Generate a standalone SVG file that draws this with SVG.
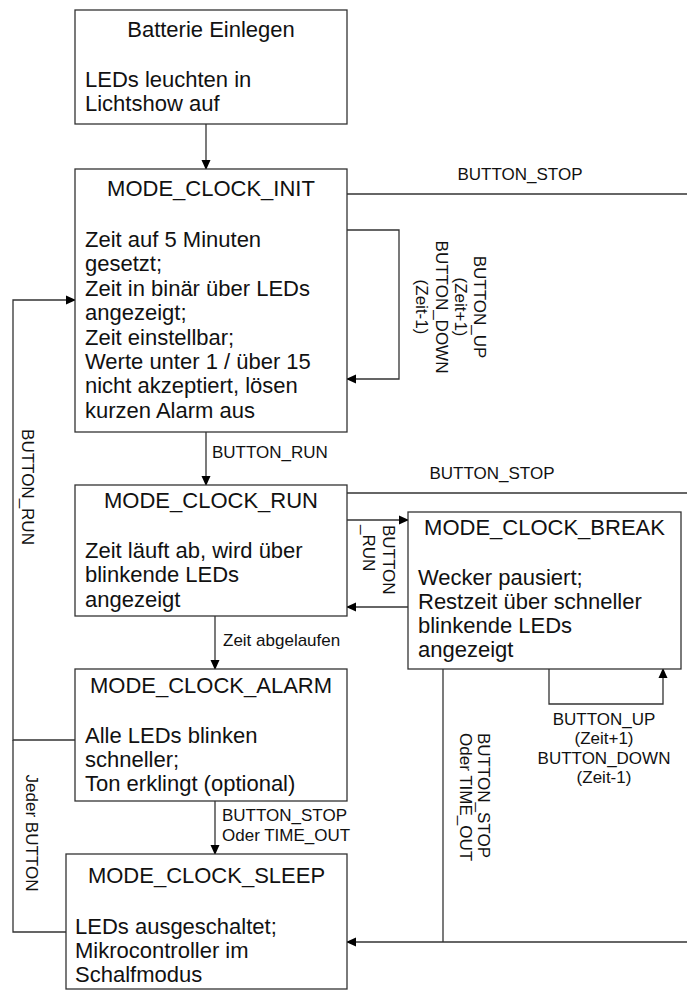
<svg xmlns="http://www.w3.org/2000/svg" width="687" height="991" viewBox="0 0 687 991">
<defs>
<marker id="arr" markerWidth="10" markerHeight="10" refX="9" refY="5" orient="auto" markerUnits="userSpaceOnUse">
<path d="M0,0.5 L10,5 L0,9.5 Z" fill="#000"/>
</marker>
<style>
.box{fill:#fff;stroke:#333;stroke-width:1.3}
.t{font-family:"Liberation Sans",Arial,sans-serif;font-size:22px;fill:#111}
.c{text-anchor:middle}
.l{font-family:"Liberation Sans",Arial,sans-serif;font-size:17px;fill:#111}
.e{fill:none;stroke:#333;stroke-width:1.3}
.a{marker-end:url(#arr)}
</style>
</defs>
<rect width="687" height="991" fill="#fff"/>
<g id="connectors">
<path class="e a" d="M206,124 V169"/>
<path class="e a" d="M206,432 V485"/>
<path class="e a" d="M215,616 V669"/>
<path class="e a" d="M215,801 V854"/>
<path class="e" d="M347,194 H687"/>
<path class="e a" d="M347,230 H399 V379 H347"/>
<path class="e" d="M347,493 H687"/>
<path class="e a" d="M347,520 H408"/>
<path class="e a" d="M408,607 H347"/>
<path class="e a" d="M549,669 V704 H663 V669"/>
<path class="e" d="M443,669 V942"/>
<path class="e a" d="M687,942 H347"/>
<path class="e a" d="M75,740 H13 V300 H75"/>
<path class="e" d="M66,932 H13 V740"/>
<text class="l" x="212" y="458">BUTTON_RUN</text>
<text class="l" x="223" y="646">Zeit abgelaufen</text>
<text class="l" x="222" y="821">BUTTON_STOP</text>
<text class="l" x="222" y="841">Oder TIME_OUT</text>
<text class="l c" x="520" y="180">BUTTON_STOP</text>
<text class="l c" x="492" y="479">BUTTON_STOP</text>
<g class="l c" transform="translate(474,307) rotate(90)">
<text x="0" y="0">BUTTON_UP</text>
<text x="0" y="19">(Zeit+1)</text>
<text x="0" y="38.5">BUTTON_DOWN</text>
<text x="0" y="58">(Zeit-1)</text>
</g>
<g class="l" transform="translate(383,525) rotate(90)">
<text x="0" y="0">BUTTON</text>
<text x="0" y="20">_RUN</text>
</g>
<g class="l c">
<text x="604" y="725">BUTTON_UP</text>
<text x="604" y="744">(Zeit+1)</text>
<text x="604" y="764">BUTTON_DOWN</text>
<text x="604" y="783">(Zeit-1)</text>
</g>
<g class="l" transform="translate(478,733) rotate(90)">
<text x="0" y="0">BUTTON_STOP</text>
<text x="0" y="18">Oder TIME_OUT</text>
</g>
<text class="l c" transform="translate(22,487) rotate(90)">BUTTON_RUN</text>
<text class="l c" transform="translate(26,833) rotate(90)">Jeder BUTTON</text>
</g>
<g id="batterie">
<rect class="box" x="75" y="10" width="272" height="114"/>
<text class="t c" x="211" y="37">Batterie Einlegen</text>
<text class="t" x="85" y="87">LEDs leuchten in</text>
<text class="t" x="85" y="111">Lichtshow auf</text>
</g>
<g id="init">
<rect class="box" x="75" y="169" width="272" height="263"/>
<text class="t c" x="211" y="196">MODE_CLOCK_INIT</text>
<text class="t" x="85" y="247">Zeit auf 5 Minuten</text>
<text class="t" x="85" y="271.4">gesetzt;</text>
<text class="t" x="85" y="295.8">Zeit in binär über LEDs</text>
<text class="t" x="85" y="320.2">angezeigt;</text>
<text class="t" x="85" y="344.6">Zeit einstellbar;</text>
<text class="t" x="85" y="369">Werte unter 1 / über 15</text>
<text class="t" x="85" y="393.4">nicht akzeptiert, lösen</text>
<text class="t" x="85" y="417.8">kurzen Alarm aus</text>
</g>
<g id="run">
<rect class="box" x="75" y="485" width="272" height="131"/>
<text class="t c" x="211" y="508">MODE_CLOCK_RUN</text>
<text class="t" x="85" y="558">Zeit läuft ab, wird über</text>
<text class="t" x="85" y="582.4">blinkende LEDs</text>
<text class="t" x="85" y="606.8">angezeigt</text>
</g>
<g id="break">
<rect class="box" x="408" y="512" width="273" height="157"/>
<text class="t c" x="544.5" y="535">MODE_CLOCK_BREAK</text>
<text class="t" x="418" y="585">Wecker pausiert;</text>
<text class="t" x="418" y="609">Restzeit über schneller</text>
<text class="t" x="418" y="633">blinkende LEDs</text>
<text class="t" x="418" y="657">angezeigt</text>
</g>
<g id="alarm">
<rect class="box" x="75" y="669" width="272" height="132"/>
<text class="t c" x="211" y="693">MODE_CLOCK_ALARM</text>
<text class="t" x="85" y="743">Alle LEDs blinken</text>
<text class="t" x="85" y="767">schneller;</text>
<text class="t" x="85" y="791">Ton erklingt (optional)</text>
</g>
<g id="sleep">
<rect class="box" x="66" y="854" width="281" height="135"/>
<text class="t c" x="206.5" y="883">MODE_CLOCK_SLEEP</text>
<text class="t" x="75" y="934">LEDs ausgeschaltet;</text>
<text class="t" x="75" y="958">Mikrocontroller im</text>
<text class="t" x="75" y="982">Schalfmodus</text>
</g>
</svg>
